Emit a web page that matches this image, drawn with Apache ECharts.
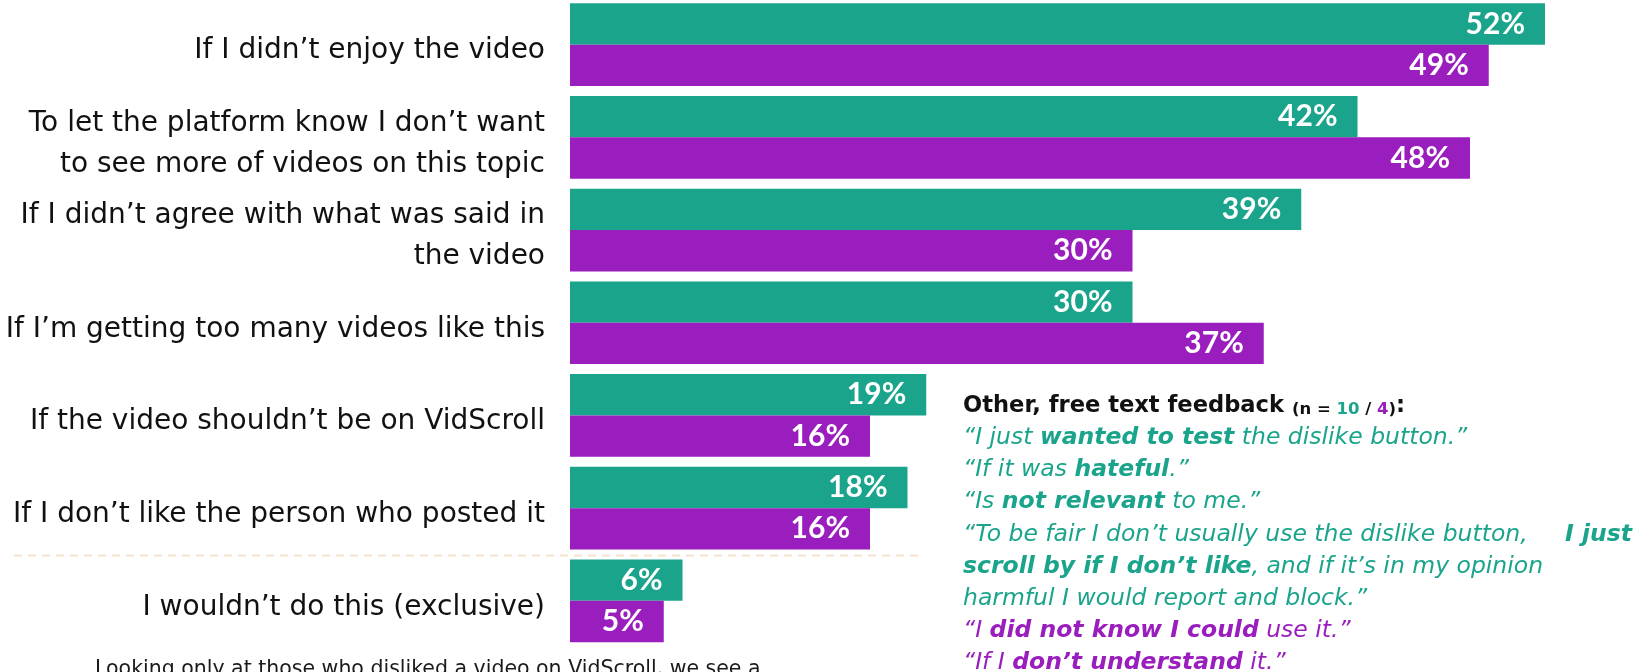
<!DOCTYPE html>
<html>
<head>
<meta charset="utf-8">
<script src="https://cdn.jsdelivr.net/npm/echarts@6/dist/echarts.min.js"></script>
<style>
  html, body { margin: 0; padding: 0; background: #ffffff; }
  #chart { width: 1652px; height: 672px; }
</style>
</head>
<body>
<div id="chart"></div>
<script>
// Reasons for using the dislike button, two respondent groups
const categories = [
  'If I didn’t enjoy the video',
  'To let the platform know I don’t want\nto see more of videos on this topic',
  'If I didn’t agree with what was said in\nthe video',
  'If I’m getting too many videos like this',
  'If the video shouldn’t be on VidScroll',
  'If I don’t like the person who posted it',
  'I wouldn’t do this (exclusive)'
];
const groupTeal = [52, 42, 39, 30, 19, 18, 6];
const groupPurple = [49, 48, 30, 37, 16, 16, 5];
const sizeTeal = 10;
const sizePurple = 4;

// Free text answers: each line is a list of [style, text] runs
const feedbackTitle = 'Other, free text feedback';
const feedbackLines = [
  [['q', '“I just '], ['qb', 'wanted to test'], ['q', ' the dislike button.”']],
  [['q', '“If it was '], ['qb', 'hateful'], ['q', '.”']],
  [['q', '“Is '], ['qb', 'not relevant'], ['q', ' to me.”']],
  [['q', '“To be fair I don’t usually use the dislike button,     '], ['qb', 'I just']],
  [['qb', 'scroll by if I don’t like'], ['q', ', and if it’s in my opinion']],
  [['q', 'harmful I would report and block.”']],
  [['p', '“I '], ['pb', 'did not know I could'], ['p', ' use it.”']],
  [['p', '“If I '], ['pb', 'don’t understand'], ['p', ' it.”']]
];
const footnote = 'Looking only at those who disliked a video on VidScroll, we see a';

const TEAL = '#1aa48b';
const PURPLE = '#9a1dbd';
const FONT = '"DejaVu Sans", "Noto Sans", sans-serif';
const PX_PER_PCT = 18.75;
const X_MAX = 55;

const chart = echarts.init(document.getElementById('chart'), null, { renderer: 'canvas' });

const barLabel = {
  show: true,
  position: 'insideRight',
  distance: 20,
  formatter: '{c}%',
  color: '#ffffff',
  fontFamily: 'Lato, "DejaVu Sans", sans-serif',
  fontWeight: 'bold',
  fontSize: 30
};

chart.setOption({
  animation: false,
  backgroundColor: '#ffffff',
  grid: {
    left: 570,
    top: -1.7,
    width: X_MAX * PX_PER_PCT,
    height: 648.9,
    containLabel: false,
    outerBoundsMode: 'none'
  },
  xAxis: {
    type: 'value',
    min: 0,
    max: X_MAX,
    show: false
  },
  yAxis: {
    type: 'category',
    inverse: true,
    data: categories,
    axisLine: { show: false },
    axisTick: { show: false },
    splitLine: { show: false },
    axisLabel: {
      margin: 25,
      align: 'right',
      formatter: v => v.split('\n').map(line => '{c|' + line + '}').join('\n'),
      rich: {
        c: {
          color: '#111111',
          fontFamily: FONT,
          fontSize: 28,
          lineHeight: 41,
          verticalAlign: 'bottom'
        }
      }
    }
  },
  series: [
    {
      name: 'n = ' + sizeTeal,
      type: 'bar',
      data: groupTeal,
      barGap: '0%',
      barCategoryGap: '10.8%',
      itemStyle: { color: TEAL },
      label: barLabel
    },
    {
      name: 'n = ' + sizePurple,
      type: 'bar',
      data: groupPurple,
      itemStyle: { color: PURPLE },
      label: barLabel
    }
  ]
});

// Divider between the last option and the rest
const yA = chart.convertToPixel({ yAxisIndex: 0 }, categories.length - 2);
const yB = chart.convertToPixel({ yAxisIndex: 0 }, categories.length - 1);
const dividerY = Math.round((yA + yB) / 2) + 0.5;

const run = (size, fill, italic, bold) => ({
  fontFamily: FONT,
  fontSize: size,
  fontStyle: italic ? 'italic' : 'normal',
  fontWeight: bold ? 'bold' : 'normal',
  fill: fill,
  verticalAlign: 'bottom',
  lineHeight: 32
});

const quoteRich = {
  q:  run(23.5, TEAL, true, false),
  qb: run(23.5, TEAL, true, true),
  p:  run(23.5, PURPLE, true, false),
  pb: run(23.5, PURPLE, true, true),
  h:  run(22.6, '#111111', false, true),
  s:  run(16.5, '#111111', false, true),
  sn: run(16.5, TEAL, false, true),
  sp: run(16.5, PURPLE, false, true)
};

const textX = 963;
const titleBaseline = 412.5;
const firstQuoteBaseline = 444;
const quoteStep = 32.2;
const descentPad = 5.3;

const esc = s => s.replace(/[{}|]/g, '');
const graphics = [
  {
    type: 'line',
    silent: true,
    shape: { x1: 14, y1: dividerY, x2: 920, y2: dividerY },
    style: { stroke: '#f3e4c9', lineWidth: 2, lineDash: [8, 6] }
  },
  {
    type: 'text',
    silent: true,
    style: {
      x: textX,
      y: titleBaseline + descentPad,
      verticalAlign: 'bottom',
      text: '{h|' + feedbackTitle + ' }{s|(n = }{sn|' + sizeTeal + '}{s| / }{sp|' + sizePurple + '}{s|)}{h|:}',
      rich: quoteRich
    }
  },
  {
    type: 'text',
    silent: true,
    style: {
      x: 95,
      y: 680.5,
      verticalAlign: 'bottom',
      text: footnote,
      fontFamily: FONT,
      fontSize: 20.5,
      fill: '#1a1a1a'
    }
  }
];

feedbackLines.forEach((runs, i) => {
  graphics.push({
    type: 'text',
    silent: true,
    style: {
      x: textX,
      y: firstQuoteBaseline + i * quoteStep + descentPad,
      verticalAlign: 'bottom',
      text: runs.map(([k, t]) => '{' + k + '|' + esc(t) + '}').join(''),
      rich: quoteRich
    }
  });
});

chart.setOption({ graphic: graphics });
</script>
</body>
</html>
